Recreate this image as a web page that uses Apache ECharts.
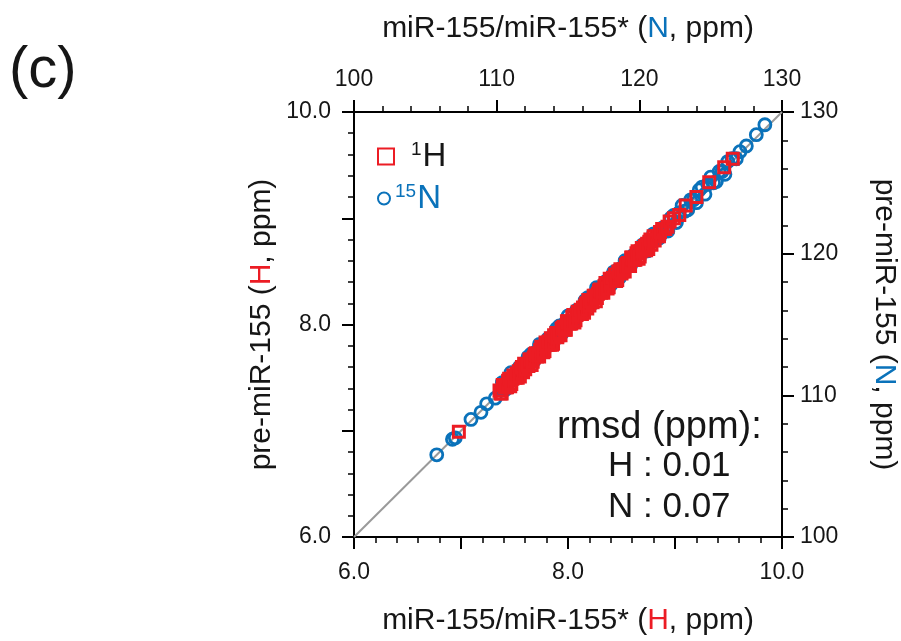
<!DOCTYPE html>
<html>
<head>
<meta charset="utf-8">
<script src="https://cdn.jsdelivr.net/npm/echarts@6/dist/echarts.min.js"></script>
<style>
  html, body { margin: 0; padding: 0; background: #fff; }
  #chart { width: 901px; height: 641px; }
</style>
</head>
<body>
<div id="chart"></div>
<script>
// 1H shifts: free duplex (x) vs pre-miRNA (y), ppm
const hFree = [
  6.98,
  7.36, 7.38, 7.39, 7.41, 7.43, 7.44, 7.46, 7.48, 7.49, 7.51, 7.53, 7.54,
  7.56, 7.58, 7.59, 7.61, 7.63, 7.64, 7.66, 7.68, 7.69, 7.71, 7.73, 7.74,
  7.76, 7.78, 7.79, 7.81, 7.83, 7.84, 7.86, 7.88, 7.89, 7.91, 7.93, 7.94,
  7.96, 7.98, 7.99, 8.01, 8.03, 8.04, 8.06, 8.08, 8.09, 8.11, 8.13, 8.14,
  8.16, 8.18, 8.19, 8.21, 8.23, 8.24, 8.26, 8.28, 8.29, 8.31, 8.33, 8.34,
  8.36, 8.38, 8.39, 8.41, 8.43, 8.44, 8.46, 8.48, 8.49, 8.51, 8.53, 8.54,
  8.56, 8.58, 8.59, 8.61, 8.63, 8.64, 8.66, 8.68, 8.69, 8.71, 8.73, 8.74,
  8.76, 8.78, 8.80, 8.83, 8.85, 8.88, 8.91, 8.95, 8.99, 9.04,
  7.37, 7.40, 7.42, 7.45, 7.47, 7.50, 7.52, 7.55, 7.57, 7.60, 7.62, 7.65,
  7.67, 7.70, 7.72, 7.75, 7.77, 7.80, 7.82, 7.85, 7.87, 7.90, 7.92, 7.95,
  7.97, 8.00, 8.02, 8.05, 8.07, 8.10, 8.12, 8.15, 8.17, 8.20, 8.22, 8.25,
  8.27, 8.30, 8.32, 8.35, 8.37, 8.40, 8.42, 8.45, 8.47, 8.50, 8.52, 8.55,
  8.57, 8.60, 8.62, 8.65, 8.67, 8.70, 8.72, 8.75, 8.77, 8.81, 8.86, 8.93,
  9.10, 9.20, 9.32, 9.46, 9.54
];
const hBound = [
  6.99,
  7.38, 7.35, 7.43, 7.41, 7.41, 7.47, 7.42, 7.49, 7.52, 7.50, 7.50, 7.56,
  7.58, 7.55, 7.63, 7.61, 7.61, 7.67, 7.62, 7.69, 7.72, 7.70, 7.70, 7.76,
  7.78, 7.75, 7.83, 7.81, 7.81, 7.87, 7.82, 7.89, 7.92, 7.90, 7.90, 7.96,
  7.98, 7.95, 8.03, 8.01, 8.01, 8.07, 8.02, 8.09, 8.12, 8.10, 8.10, 8.16,
  8.18, 8.15, 8.23, 8.21, 8.21, 8.27, 8.22, 8.29, 8.32, 8.30, 8.30, 8.36,
  8.38, 8.35, 8.43, 8.41, 8.41, 8.47, 8.42, 8.49, 8.52, 8.50, 8.50, 8.56,
  8.58, 8.55, 8.63, 8.61, 8.61, 8.67, 8.62, 8.69, 8.72, 8.70, 8.70, 8.76,
  8.78, 8.75, 8.83, 8.83, 8.83, 8.90, 8.90, 8.97, 9.00, 9.03,
  7.35, 7.43, 7.41, 7.49, 7.44, 7.51, 7.54, 7.51, 7.60, 7.58, 7.62, 7.67,
  7.65, 7.73, 7.71, 7.79, 7.74, 7.81, 7.84, 7.81, 7.90, 7.88, 7.92, 7.97,
  7.95, 8.03, 8.01, 8.09, 8.04, 8.11, 8.14, 8.11, 8.20, 8.18, 8.22, 8.27,
  8.25, 8.33, 8.31, 8.39, 8.34, 8.41, 8.44, 8.41, 8.50, 8.48, 8.52, 8.57,
  8.55, 8.63, 8.61, 8.69, 8.64, 8.71, 8.74, 8.71, 8.80, 8.79, 8.87, 8.92,
  9.12, 9.20, 9.34, 9.48, 9.56
];

// 15N shifts: free duplex (x) vs pre-miRNA (y), ppm
const nFree = [
  105.8, 106.9, 107.1, 108.2, 108.9, 109.3, 109.9, 110.3,
  110.4, 110.6, 110.8, 111.0, 111.2, 111.4, 111.6, 111.8, 112.0, 112.2,
  112.4, 112.6, 112.8, 113.0, 113.2, 113.4, 113.6, 113.8, 114.0, 114.2,
  114.4, 114.6, 114.8, 115.0, 115.2, 115.4, 115.6, 115.8, 116.0, 116.2,
  116.4, 116.6, 116.8, 117.0, 117.2, 117.4, 117.6, 117.8, 118.0, 118.2,
  118.4, 118.6, 118.8, 119.0, 119.2, 119.4, 119.6, 119.8, 120.0, 120.2,
  120.4, 120.6, 120.8, 121.0, 121.2, 121.4, 121.6, 121.8, 122.0, 122.2,
  122.4, 122.6, 122.8, 123.0, 123.2, 123.4, 123.6, 123.8, 124.0, 124.2,
  124.4, 124.6, 124.8, 125.0, 125.2, 125.4, 125.6, 125.8, 126.0, 126.2,
  126.5, 126.8,
  127.05, 127.5, 128.2, 128.8
];
const nBound = [
  105.8, 106.9, 107.0, 108.3, 108.8, 109.4, 109.8, 110.4,
  110.9, 110.4, 111.1, 111.6, 111.2, 111.3, 112.0, 112.0, 111.8, 112.7,
  112.9, 112.4, 113.1, 113.6, 113.2, 113.3, 114.0, 114.0, 113.8, 114.7,
  114.9, 114.4, 115.1, 115.6, 115.2, 115.3, 116.0, 116.0, 115.8, 116.7,
  116.9, 116.4, 117.1, 117.6, 117.2, 117.3, 118.0, 118.0, 117.8, 118.7,
  118.8, 118.3, 119.0, 119.5, 119.1, 119.2, 119.9, 119.9, 119.7, 120.6,
  120.7, 120.2, 120.9, 121.4, 121.0, 121.1, 121.8, 121.8, 121.6, 122.5,
  122.7, 122.2, 122.9, 123.4, 123.0, 123.1, 123.8, 123.8, 123.6, 124.5,
  124.7, 124.2, 124.9, 125.4, 125.0, 125.1, 125.8, 125.8, 125.6, 126.5,
  126.7, 126.7,
  127.2, 127.6, 128.4, 129.1
];

// y = x reference line on the 1H scale
const diagX = [6, 10];
const diagY = [6, 10];

const hTicks = { min: 6, max: 10, step: 1 };
const nTicks = { min: 100, max: 130, step: 10 };

const RED = '#ec1c24';
const BLUE = '#0a72ba';
const INK = '#161616';
const FONT = '"Liberation Sans", Arial, sans-serif';
const NAME_SIZE = 30;
const TICK_SIZE = 23;

const zip = (a, b) => a.map((v, i) => [v, b[i]]);

function axisBase(t, extra) {
  return Object.assign({
    type: 'value',
    min: t.min, max: t.max, interval: t.step,
    axisLine: { show: true, onZero: false, lineStyle: { color: '#000', width: 2 } },
    axisTick: { show: true, length: 12, lineStyle: { color: '#000', width: 2 } },
    minorTick: { show: true, splitNumber: 5, length: 6, lineStyle: { color: '#000', width: 1.5 } },
    splitLine: { show: false },
    minorSplitLine: { show: false },
    nameLocation: 'middle'
  }, extra);
}

function nameStyle(key, color) {
  const rich = {};
  rich[key] = { color: color, fontSize: NAME_SIZE, fontFamily: FONT };
  return { color: INK, fontSize: NAME_SIZE, fontFamily: FONT, rich: rich };
}

function labelStyle(fmt, margin) {
  return { formatter: fmt, color: INK, fontSize: TICK_SIZE, fontFamily: FONT, margin: margin };
}

const hFmt = v => (Math.round(v) % 2 === 0 ? v.toFixed(1) : '');
const nFmt = v => String(v);

const chart = echarts.init(document.getElementById('chart'), null, { renderer: 'canvas' });

chart.setOption({
  backgroundColor: '#fff',
  animation: false,
  grid: { left: 354, right: 119, top: 112, bottom: 102, containLabel: false },
  xAxis: [
    axisBase(hTicks, {
      position: 'bottom',
      name: 'miR-155/miR-155* ({r|H}, ppm)',
      nameGap: 69,
      nameTextStyle: nameStyle('r', RED),
      axisLabel: labelStyle(hFmt, 24)
    }),
    axisBase(nTicks, {
      position: 'top',
      name: 'miR-155/miR-155* ({b|N}, ppm)',
      nameGap: 68,
      nameTextStyle: nameStyle('b', BLUE),
      axisLabel: labelStyle(nFmt, 21)
    })
  ],
  yAxis: [
    axisBase(hTicks, {
      position: 'left',
      name: 'pre-miR-155 ({r|H}, ppm)',
      nameGap: 77,
      nameTextStyle: nameStyle('r', RED),
      axisLabel: labelStyle(hFmt, 23)
    }),
    axisBase(nTicks, {
      position: 'right',
      name: 'pre-miR-155 ({b|N}, ppm)',
      nameGap: 87,
      nameRotate: -90,
      nameTextStyle: nameStyle('b', BLUE),
      axisLabel: labelStyle(nFmt, 18)
    })
  ],
  legend: [
    {
      data: ['1H'],
      left: 372, top: 135,
      itemWidth: 16, itemHeight: 16,
      formatter: () => '{s|1}{h|H}',
      textStyle: {
        fontFamily: FONT,
        rich: {
          s: { fontSize: 19, color: INK, fontFamily: FONT, verticalAlign: 'top', padding: [0, 1, 0, 12] },
          h: { fontSize: 33, color: INK, fontFamily: FONT, verticalAlign: 'bottom' }
        }
      }
    },
    {
      data: ['15N'],
      left: 372, top: 177,
      itemWidth: 12, itemHeight: 12,
      formatter: () => '{s|15}{h|N}',
      textStyle: {
        fontFamily: FONT,
        rich: {
          s: { fontSize: 19, color: BLUE, fontFamily: FONT, verticalAlign: 'top', padding: [0, 1, 0, 0] },
          h: { fontSize: 33, color: BLUE, fontFamily: FONT, verticalAlign: 'bottom' }
        }
      }
    }
  ],
  graphic: [
    { type: 'text', left: 9, top: 42, style: { text: '(c)', font: '58px ' + FONT, fill: INK } },
    { type: 'text', left: 557, top: 409, style: { text: 'rmsd (ppm):', font: '38px ' + FONT, fill: INK } },
    { type: 'text', left: 608, top: 449, style: { text: 'H : 0.01', font: '35px ' + FONT, fill: INK } },
    { type: 'text', left: 608, top: 490, style: { text: 'N : 0.07', font: '35px ' + FONT, fill: INK } }
  ],
  series: [
    {
      name: 'diagonal',
      type: 'line',
      xAxisIndex: 0, yAxisIndex: 0,
      data: zip(diagX, diagY),
      symbol: 'none',
      silent: true,
      z: 1,
      lineStyle: { color: '#9a9a9a', width: 2 }
    },
    {
      name: '15N',
      type: 'scatter',
      xAxisIndex: 1, yAxisIndex: 1,
      data: zip(nFree, nBound),
      symbol: 'circle',
      symbolSize: 12,
      z: 2,
      itemStyle: { color: 'rgba(255,255,255,0)', borderColor: BLUE, borderWidth: 2.8, opacity: 1 }
    },
    {
      name: '1H',
      type: 'scatter',
      xAxisIndex: 0, yAxisIndex: 0,
      data: zip(hFree, hBound),
      symbol: 'rect',
      symbolSize: 11,
      z: 3,
      itemStyle: { color: 'rgba(255,255,255,0)', borderColor: RED, borderWidth: 3, opacity: 1 }
    }
  ]
});
</script>
</body>
</html>
